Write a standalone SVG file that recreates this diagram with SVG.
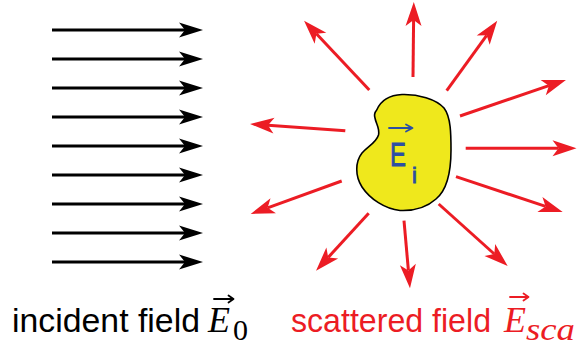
<svg xmlns="http://www.w3.org/2000/svg" width="577" height="347" viewBox="0 0 577 347">
<style>
.inc{stroke:#000;stroke-width:2.8;fill:none}
.sca{stroke:#ec1c24;stroke-width:3;fill:none}
.lbl{font-family:"Liberation Sans",Arial,sans-serif;font-size:33px}
.math{font-family:"Liberation Serif","Times New Roman",serif;font-style:italic}
.vec{fill:none;stroke-width:1.8;stroke-linecap:round;stroke-linejoin:round}
.blue{font-family:"Liberation Sans",Arial,sans-serif;fill:#2c4fa3;stroke:#2c4fa3;stroke-width:0.9}
</style>
<defs>
<marker id="hb" markerUnits="userSpaceOnUse" markerWidth="24" markerHeight="15" refX="6" refY="7.5" orient="auto" overflow="visible">
<path d="M0,0 L24,7.5 L0,15 L6,7.5 Z" fill="#000"/>
</marker>
<marker id="hr" markerUnits="userSpaceOnUse" markerWidth="24" markerHeight="16" refX="6" refY="8" orient="auto" overflow="visible">
<path d="M0,0 L24,8 L0,16 L6,8 Z" fill="#ec1c24"/>
</marker>
</defs>
<g id="incident">
<g class="inc">
<path d="M52,30 H185" marker-end="url(#hb)"/>
<path d="M52,59 H185" marker-end="url(#hb)"/>
<path d="M52,88 H185" marker-end="url(#hb)"/>
<path d="M52,117 H185" marker-end="url(#hb)"/>
<path d="M52,146 H185" marker-end="url(#hb)"/>
<path d="M52,175 H185" marker-end="url(#hb)"/>
<path d="M52,204 H185" marker-end="url(#hb)"/>
<path d="M52,233 H185" marker-end="url(#hb)"/>
<path d="M52,262 H185" marker-end="url(#hb)"/>
</g>
</g>
<g id="scattered">
<g class="sca">
<path d="M413,77 L413.6,20" marker-end="url(#hr)"/>
<path d="M369.3,90 L316.4,33.8" marker-end="url(#hr)"/>
<path d="M446.7,90.7 L486.7,35.3" marker-end="url(#hr)"/>
<path d="M460,116 L548.9,85.7" marker-end="url(#hr)"/>
<path d="M465.7,148.3 L558.5,148.3" marker-end="url(#hr)"/>
<path d="M456,176.7 L545.6,206.4" marker-end="url(#hr)"/>
<path d="M438.7,204 L494.3,254" marker-end="url(#hr)"/>
<path d="M404,220.7 L408.4,270.4" marker-end="url(#hr)"/>
<path d="M368.7,213.3 L328.2,257.4" marker-end="url(#hr)"/>
<path d="M341.7,181 L267.6,207.8" marker-end="url(#hr)"/>
<path d="M345.3,130.7 L268,125.2" marker-end="url(#hr)"/>
</g>
</g>
<g id="particle">
<path d="M376.7,110 C381,100 390,95 402,94.5 C418,94 436,99 444,108 C451,117 451,135 451,150 C451,170 447,190 436,199 C426,208 412,211 400,210.5 C385,209 370,199 362,187 C355,176 355,162 362,153 C368,146 376,143 378.5,135 C380,128 376,124 375,118 C374,115 375,112 376.7,110 Z" fill="#efe81c" stroke="#000" stroke-width="1.6"/>
<path class="vec" stroke="#2c4fa3" d="M389,128 H412 M406,124.5 L412.5,128 L406,131.5"/>
<text class="blue" x="390" y="166" font-size="34" textLength="16" lengthAdjust="spacingAndGlyphs">E</text>
<text class="blue" x="412" y="183" font-size="22">i</text>
</g>
<g id="label-incident">
<text class="lbl" x="12" y="332" fill="#000" textLength="188" lengthAdjust="spacingAndGlyphs">incident field</text>
<path class="vec" stroke="#000" d="M214,299 H233 M228.5,295.5 L233.5,299 L228.5,302.5"/>
<text class="math" x="208" y="332" font-size="36" fill="#000">E</text>
<text x="233" y="340" font-family="'Liberation Serif','Times New Roman',serif" font-size="30" fill="#000">0</text>
</g>
<g id="label-scattered">
<text class="lbl" x="291" y="332" fill="#ec1c24" textLength="200" lengthAdjust="spacingAndGlyphs">scattered field</text>
<path class="vec" stroke="#ec1c24" d="M510,297 H528 M523.5,293.5 L528.5,297 L523.5,300.5"/>
<text class="math" x="504" y="332" font-size="36" fill="#ec1c24">E</text>
<text class="math" x="526" y="340" font-size="32" fill="#ec1c24" textLength="49" lengthAdjust="spacingAndGlyphs">sca</text>
</g>
</svg>
